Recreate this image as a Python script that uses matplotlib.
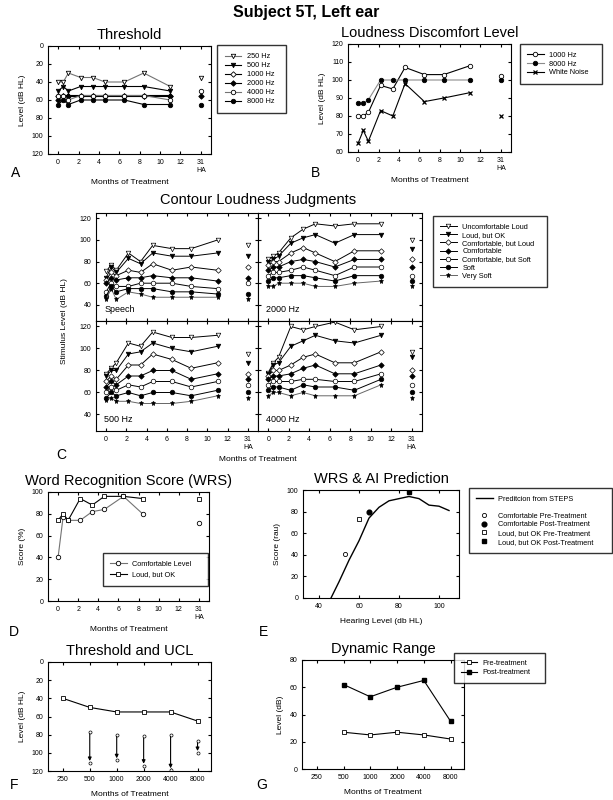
import matplotlib
matplotlib.use("Agg")
import matplotlib.pyplot as plt

plt.rcParams['font.family'] = ['Liberation Sans', 'DejaVu Sans']
plt.rcParams['xtick.direction'] = 'in'
plt.rcParams['ytick.direction'] = 'in'
plt.rcParams['xtick.top'] = True
plt.rcParams['ytick.right'] = True
plt.rcParams['xtick.major.size'] = 2.5
plt.rcParams['ytick.major.size'] = 2.5
plt.rcParams['xtick.labelsize'] = 5
plt.rcParams['ytick.labelsize'] = 5
plt.rcParams['axes.linewidth'] = 0.8

# ---- data ----
months = [0, 0.5, 1, 2.2, 3.4, 4.6, 6.5, 8.4, 11]
ha_x = 14
month_ticks = [0, 2, 4, 6, 8, 10, 12, 14]
month_labels = ['0', '2', '4', '6', '8', '10', '12', '31\nHA']

# A: threshold (dB HL)
thr_freqs = ['250 Hz', '500 Hz', '1000 Hz', '2000 Hz', '4000 Hz', '8000 Hz']
thr_250 = [40, 40, 30, 35, 35, 40, 40, 30, 45]
thr_500 = [50, 45, 50, 45, 45, 45, 45, 45, 50]
thr_1000 = [55, 55, 55, 55, 55, 55, 55, 55, 55]
thr_2000 = [60, 55, 55, 55, 55, 55, 55, 55, 55]
thr_4000 = [55, 55, 60, 55, 55, 55, 55, 55, 60]
thr_8000 = [65, 60, 65, 60, 60, 60, 60, 65, 65]
thr_ha = [35, None, None, 55, 50, 65]

# B: loudness discomfort level
ldl_labels = ['1000 Hz', '8000 Hz', 'White Noise']
ldl_1000 = [80, 80, 82, 97, 95, 107, 103, 103, 108]
ldl_8000 = [87, 87, 89, 100, 100, 100, 100, 100, 100]
ldl_wn = [65, 72, 66, 83, 80, 98, 88, 90, 93]
ldl_ha = [102, 100, 80]

# C: contour loudness judgments
cat_labels = ['Uncomfortable Loud', 'Loud, but OK', 'Comfortable, but Loud',
              'Comfortable', 'Comfortable, but Soft', 'Soft', 'Very Soft']
speech = [
    [71, 77, 72, 88, 80, 95, 92, 92, 100],
    [65, 75, 70, 83, 78, 88, 85, 85, 88],
    [63, 70, 67, 72, 70, 78, 72, 75, 72],
    [60, 65, 63, 65, 65, 67, 65, 65, 62],
    [52, 60, 57, 57, 60, 60, 60, 57, 55],
    [48, 57, 52, 55, 55, 55, 52, 52, 50],
    [45, 55, 45, 52, 50, 47, 47, 47, 47],
]
speech_ha = [95, 85, 75, 65, 60, 50, 45]
hz2000 = [
    [82, 85, 88, 102, 110, 115, 113, 115, 115],
    [80, 82, 85, 97, 102, 105, 97, 105, 105],
    [77, 80, 80, 88, 93, 88, 80, 90, 90],
    [72, 75, 75, 80, 82, 80, 75, 82, 82],
    [67, 70, 70, 72, 75, 72, 67, 75, 75],
    [62, 65, 65, 67, 67, 65, 62, 67, 67],
    [57, 57, 60, 60, 60, 57, 57, 60, 62],
]
hz2000_ha = [100, 92, 82, 75, 67, 62, 57]
hz500 = [
    [77, 82, 87, 105, 102, 115, 110, 110, 112],
    [75, 80, 80, 95, 97, 105, 100, 97, 102],
    [70, 75, 72, 85, 85, 95, 90, 82, 87],
    [65, 70, 67, 75, 75, 80, 80, 72, 77],
    [60, 65, 62, 67, 65, 70, 70, 65, 70],
    [55, 60, 57, 60, 57, 60, 60, 57, 62],
    [53, 55, 52, 52, 50, 50, 50, 52, 57],
]
hz500_ha = [95, 87, 77, 72, 67, 60, 55]
hz4000 = [
    [78, 87, 92, 120, 117, 120, 124, 117, 120],
    [77, 85, 87, 102, 107, 112, 107, 105, 112],
    [75, 80, 80, 85, 92, 95, 87, 87, 97],
    [72, 75, 75, 77, 82, 85, 77, 77, 85],
    [67, 70, 70, 70, 72, 72, 70, 70, 77],
    [62, 65, 65, 62, 67, 65, 65, 62, 72],
    [57, 60, 60, 57, 60, 57, 57, 57, 67],
]
hz4000_ha = [97, 92, 80, 75, 67, 60, 55]

# D: word recognition score
wrs_months = [0, 0.5, 1, 2.2, 3.4, 4.6, 6.5, 8.4]
wrs_comf = [40, 77, 74, 74, 82, 84, 96, 80]
wrs_loud = [74, 80, 74, 94, 88, 96, 96, 94]
wrs_comf_ha = 72
wrs_loud_ha = 94

# E: WRS & AI prediction
steps_hl = [46, 50, 55, 60, 65, 70, 75, 80, 85, 90, 95, 100, 105]
steps_score = [0, 15, 35, 53, 74, 84, 90, 92, 94, 92, 86, 85, 81]
comf_pre = (53, 41)
comf_post = (65, 80)
loud_pre = (60, 73)
loud_post = (85, 98)

# F / G: threshold, UCL and dynamic range by frequency
freq_labels = ['250', '500', '1000', '2000', '4000', '8000']
thr_by_freq = [40, 50, 55, 55, 55, 65]
ucl_pre = [77, 80, 82, 80, 87]
ucl_post = [111, 108, 114, 119, 100]
dr_pre = [27, 25, 27, 25, 22]
dr_post = [62, 53, 60, 65, 35]

# ---- layout helpers ----
W, H = 613, 800
fig = plt.figure(figsize=(W / 100, H / 100), dpi=100)


def ax_at(l, t, r, b):
    return fig.add_axes([l / W, 1 - b / H, (r - l) / W, (b - t) / H])


def ftext(x, y, s, **kw):
    fig.text(x / W, 1 - y / H, s, **kw)


def fbox(l, t, r, b):
    return (l / W, 1 - b / H, (r - l) / W, (b - t) / H)


def month_axis(ax, labels=True):
    ax.set_xlim(-1, 15)
    ax.set_xticks(month_ticks)
    if labels:
        ax.set_xticklabels(month_labels)
    else:
        ax.set_xticklabels([])


leg_kw = dict(fontsize=5.3, frameon=True, fancybox=False, edgecolor='black',
              handlelength=2.2, borderaxespad=0, loc='upper left',
              bbox_transform=fig.transFigure, mode='expand')

ftext(306, 13, 'Subject 5T, Left ear', ha='center', va='center',
      fontsize=11.5, fontweight='bold')

# ---- A: Threshold ----
ax = ax_at(48, 46, 211, 154)
thr_series = [thr_250, thr_500, thr_1000, thr_2000, thr_4000, thr_8000]
thr_mk = [('v', 'white'), ('v', 'black'), ('D', 'white'),
          ('D', 'black'), ('o', 'white'), ('o', 'black')]
thr_lc = ['0.45', 'black', 'black', 'black', '0.45', 'black']
for ys, (m, fc), lc, lab, h in zip(thr_series, thr_mk, thr_lc, thr_freqs, thr_ha):
    ms = 3.2 if m != 'D' else 2.8
    ax.plot(months, ys, color=lc, lw=0.8, marker=m, ms=ms, mfc=fc, mec='black',
            mew=0.6, label=lab)
    if h is not None:
        ax.plot([ha_x], [h], marker=m, ms=ms, mfc=fc, mec='black', mew=0.6,
                ls='none')
ax.set_ylim(120, 0)
ax.set_yticks(range(0, 121, 20))
month_axis(ax)
ax.set_ylabel('Level (dB HL)', fontsize=6)
ax.set_xlabel('Months of Treatment', fontsize=6, labelpad=4)
ax.set_title('Threshold', fontsize=10.5, pad=5)
ax.legend(bbox_to_anchor=fbox(217, 45, 286, 118), borderpad=1.1,
          labelspacing=0.25, **leg_kw)
ftext(16, 173, 'A', fontsize=10, ha='center', va='center')

# ---- B: LDL ----
ax = ax_at(348, 44, 511, 152)
ax.plot(months, ldl_1000, color='black', lw=0.8, marker='o', ms=3.2, mfc='white',
        mec='black', mew=0.6, label=ldl_labels[0])
ax.plot(months, ldl_8000, color='0.55', lw=0.8, marker='o', ms=3.2, mfc='black',
        mec='black', mew=0.6, label=ldl_labels[1])
ax.plot(months, ldl_wn, color='black', lw=0.8, marker='x', ms=3.2, mec='black',
        mew=0.9, label=ldl_labels[2])
ax.plot([ha_x], [ldl_ha[0]], marker='o', ms=3.2, mfc='white', mec='black', mew=0.6)
ax.plot([ha_x], [ldl_ha[1]], marker='o', ms=3.2, mfc='black', mec='black', mew=0.6)
ax.plot([ha_x], [ldl_ha[2]], marker='x', ms=3.2, mec='black', mew=0.9)
ax.set_ylim(60, 120)
ax.set_yticks(range(60, 121, 10))
month_axis(ax)
ax.set_ylabel('Level (dB HL)', fontsize=6)
ax.set_xlabel('Months of Treatment', fontsize=6, labelpad=4)
ax.set_title('Loudness Discomfort Level', fontsize=10.5, pad=5)
ax.legend(bbox_to_anchor=fbox(520, 44, 602, 91), borderpad=1.0,
          labelspacing=0.25, **leg_kw)
ftext(315, 173, 'B', fontsize=10, ha='center', va='center')

# ---- C: Contour loudness ----
cat_mk = [('v', 'white'), ('v', 'black'), ('D', 'white'), ('D', 'black'),
          ('o', 'white'), ('o', 'black'), ('*', 'black')]
cat_lc = ['black', 'black', 'black', 'black', 'black', 'black', '0.4']
panels = [
    ((96, 213, 258, 321), speech, speech_ha, 'Speech', True, False),
    ((258, 213, 422, 321), hz2000, hz2000_ha, '2000 Hz', False, False),
    ((96, 321, 258, 431), hz500, hz500_ha, '500 Hz', True, True),
    ((258, 321, 422, 431), hz4000, hz4000_ha, '4000 Hz', False, True),
]
handles, labels = None, None
for box, series, ha_vals, name, left, bottom in panels:
    ax = ax_at(*box)
    for ys, h, (m, fc), lc, lab in zip(series, ha_vals, cat_mk, cat_lc, cat_labels):
        ms = 3.3 if m != 'D' else 2.8
        if m == '*':
            ms = 3.6
        ax.plot(months, ys, color=lc, lw=0.7, marker=m, ms=ms, mfc=fc,
                mec='black', mew=0.5, label=lab)
        ax.plot([ha_x], [h], marker=m, ms=ms, mfc=fc, mec='black', mew=0.5,
                ls='none')
    ax.set_ylim(25, 125)
    ax.set_yticks(range(40, 121, 20))
    if not left:
        ax.set_yticklabels([])
    month_axis(ax, labels=bottom)
    ax.text(0.05, 0.08, name, transform=ax.transAxes, fontsize=6.5)
    if handles is None:
        handles, labels = ax.get_legend_handles_labels()
ftext(258, 200, 'Contour Loudness Judgments', ha='center', va='center',
      fontsize=10.5)
ftext(64, 321, 'Stimulus Level (dB HL)', ha='center', va='center',
      rotation=90, fontsize=6)
ftext(258, 460, 'Months of Treatment', ha='center', va='center', fontsize=6)
ftext(61, 455, 'C', fontsize=10, ha='center', va='center')
fig.legend(handles, labels, bbox_to_anchor=fbox(433, 216, 547, 297),
           borderpad=1.0, labelspacing=0.15, **leg_kw)

# ---- D: WRS ----
ax = ax_at(48, 492, 209, 601)
ax.plot(wrs_months, wrs_comf, color='0.45', lw=0.8, marker='o', ms=3.2,
        mfc='white', mec='black', mew=0.6, label='Comfortable Level')
ax.plot(wrs_months, wrs_loud, color='black', lw=0.8, marker='s', ms=3.0,
        mfc='white', mec='black', mew=0.6, label='Loud, but OK')
ax.plot([ha_x], [wrs_comf_ha], marker='o', ms=3.2, mfc='white', mec='black', mew=0.6)
ax.plot([ha_x], [wrs_loud_ha], marker='s', ms=3.0, mfc='white', mec='black', mew=0.6)
ax.set_ylim(0, 100)
ax.set_yticks(range(0, 101, 20))
month_axis(ax)
ax.set_ylabel('Score (%)', fontsize=6)
ax.set_xlabel('Months of Treatment', fontsize=6, labelpad=4)
ax.set_title('Word Recognition Score (WRS)', fontsize=10.5, pad=5)
ax.legend(bbox_to_anchor=fbox(103, 553, 208, 592), borderpad=1.0,
          labelspacing=0.5, **leg_kw)
ftext(14, 632, 'D', fontsize=10, ha='center', va='center')

# ---- E: WRS & AI ----
ax = ax_at(303, 490, 459, 598)
ax.plot(steps_hl, steps_score, color='black', lw=1.0, label='Preditcion from STEPS')
ax.plot([], [], ls='none', label=' ')
ax.plot(*comf_pre, ls='none', marker='o', ms=3.0, mfc='white', mec='black',
        mew=0.6, label='Comfortable Pre-Treatment')
ax.plot(*comf_post, ls='none', marker='o', ms=3.4, mfc='black', mec='black',
        label='Comfortable Post-Treatment')
ax.plot(*loud_pre, ls='none', marker='s', ms=3.0, mfc='white', mec='black',
        mew=0.6, label='Loud, but OK Pre-Treatment')
ax.plot(*loud_post, ls='none', marker='s', ms=3.2, mfc='black', mec='black',
        label='Loud, but OK Post-Treatment')
ax.set_xlim(32, 110)
ax.set_xticks([40, 60, 80, 100])
ax.set_ylim(0, 100)
ax.set_yticks(range(0, 101, 20))
ax.set_ylabel('Score (rau)', fontsize=6)
ax.set_xlabel('Hearing Level (db HL)', fontsize=6, labelpad=6)
ax.set_title('WRS & AI Prediction', fontsize=10.5, pad=5)
ax.legend(bbox_to_anchor=fbox(469, 488, 612, 563), borderpad=1.0,
          labelspacing=0.2, **leg_kw)
ftext(263, 632, 'E', fontsize=10, ha='center', va='center')

# ---- F: Threshold and UCL ----
ax = ax_at(48, 662, 211, 771)
xf = list(range(len(freq_labels)))
ax.plot(xf, thr_by_freq, color='black', lw=0.8, marker='s', ms=3.0, mfc='white',
        mec='black', mew=0.6)
for i, (p0, p1) in enumerate(zip(ucl_pre, ucl_post)):
    ax.annotate('', xy=(xf[i + 1], p1 - 2), xytext=(xf[i + 1], p0 + 2),
                arrowprops=dict(arrowstyle='-|>', color='black', lw=0.8,
                                mutation_scale=5, shrinkA=0, shrinkB=0))
    ax.plot([xf[i + 1]], [p0], marker='o', ms=2.2, mfc='white', mec='black', mew=0.5)
    ax.plot([xf[i + 1]], [p1], marker='o', ms=2.2, mfc='white', mec='black', mew=0.5)
ax.set_xlim(-0.55, 5.5)
ax.set_xticks(xf)
ax.set_xticklabels(freq_labels)
ax.set_ylim(120, 0)
ax.set_yticks(range(0, 121, 20))
ax.set_ylabel('Level (dB HL)', fontsize=6)
ax.set_xlabel('Months of Treatment', fontsize=6, labelpad=6)
ax.set_title('Threshold and UCL', fontsize=10.5, pad=5)
ftext(14, 785, 'F', fontsize=10, ha='center', va='center')

# ---- G: Dynamic Range ----
ax = ax_at(302, 660, 464, 769)
ax.plot(xf[1:], dr_pre, color='black', lw=0.8, marker='s', ms=3.0, mfc='white',
        mec='black', mew=0.6, label='Pre-treatment')
ax.plot(xf[1:], dr_post, color='black', lw=0.8, marker='s', ms=3.2, mfc='black',
        mec='black', label='Post-treatment')
ax.set_xlim(-0.55, 5.5)
ax.set_xticks(xf)
ax.set_xticklabels(freq_labels)
ax.set_ylim(0, 80)
ax.set_yticks(range(0, 81, 20))
ax.set_ylabel('Level (dB)', fontsize=6)
ax.set_xlabel('Months of Treatment', fontsize=6, labelpad=6)
ax.set_title('Dynamic Range', fontsize=10.5, pad=5)
fig.legend(*ax.get_legend_handles_labels(), bbox_to_anchor=fbox(454, 653, 545, 692),
           borderpad=0.9, labelspacing=0.3, **leg_kw)
ftext(262, 785, 'G', fontsize=10, ha='center', va='center')

fig.savefig('out.png', dpi=100)
